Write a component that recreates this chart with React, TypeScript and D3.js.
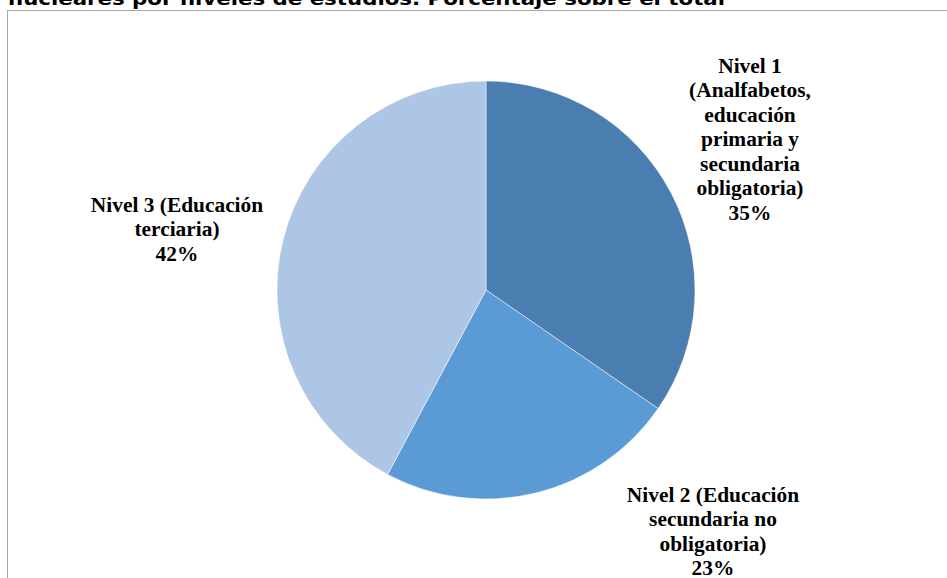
import React from "react";
import * as d3 from "d3";

const categories = [
  "Nivel 1 (Analfabetos, educación primaria y secundaria obligatoria)",
  "Nivel 2 (Educación secundaria no obligatoria)",
  "Nivel 3 (Educación terciaria)",
];
const values = [34.6, 23.2, 42.2];
const labelLines = [
  ["Nivel 1", "(Analfabetos,", "educación", "primaria y", "secundaria", "obligatoria)"],
  ["Nivel 2 (Educación", "secundaria no", "obligatoria)"],
  ["Nivel 3 (Educación", "terciaria)"],
];
const colors = ["#4A7EB0", "#5B9BD5", "#ADC6E5"];
const title = "nucleares por niveles de estudios. Porcentaje sobre el total";

const W = 947;
const H = 578;
const cx = 486;
const cy = 290;
const R = 209;
const labelPos = [
  { x: 750, y: 73 },
  { x: 713, y: 502 },
  { x: 177, y: 212 },
];

export default function App() {
  const pie = d3.pie<number>().sort(null).value((d) => d);
  const arcs = pie(values);
  const arcGen = d3.arc<d3.PieArcDatum<number>>().innerRadius(0).outerRadius(R);
  const total = d3.sum(values);
  return (
    <svg
      width={W}
      height={H}
      style={{ position: "absolute", left: 0, top: 0, background: "#fff" }}
    >
      <rect x={7.5} y={10.5} width={1000} height={700} fill="#fff" stroke="#a6a6a6" strokeWidth={1} />
      <text
        x={8}
        y={5}
        fontFamily="DejaVu Sans"
        fontWeight="bold"
        fontSize={17}
        textLength={717}
        lengthAdjust="spacingAndGlyphs"
        fill="#000"
      >
        {title}
      </text>
      <g transform={`translate(${cx},${cy})`}>
        {arcs.map((a, i) => (
          <path key={categories[i]} d={arcGen(a) || ""} fill={colors[i]} stroke="#ffffff" strokeOpacity={0.6} strokeWidth={0.8} />
        ))}
      </g>
      {labelLines.map((lines, i) => {
        const pct = Math.round((values[i] / total) * 100) + "%";
        const all = [...lines, pct];
        return (
          <g key={i} transform={`translate(${labelPos[i].x},${labelPos[i].y}) scale(1.07,1)`}>
            <text
              x={0}
              y={0}
              textAnchor="middle"
              style={{ fontFamily: "'Liberation Serif', 'Times New Roman', serif", fontWeight: 700, fontSize: "20px" }}
              fill="#000"
            >
              {all.map((t, j) => (
                <tspan key={j} x={0} dy={j === 0 ? 0 : 24.5}>
                  {t}
                </tspan>
              ))}
            </text>
          </g>
        );
      })}
    </svg>
  );
}
